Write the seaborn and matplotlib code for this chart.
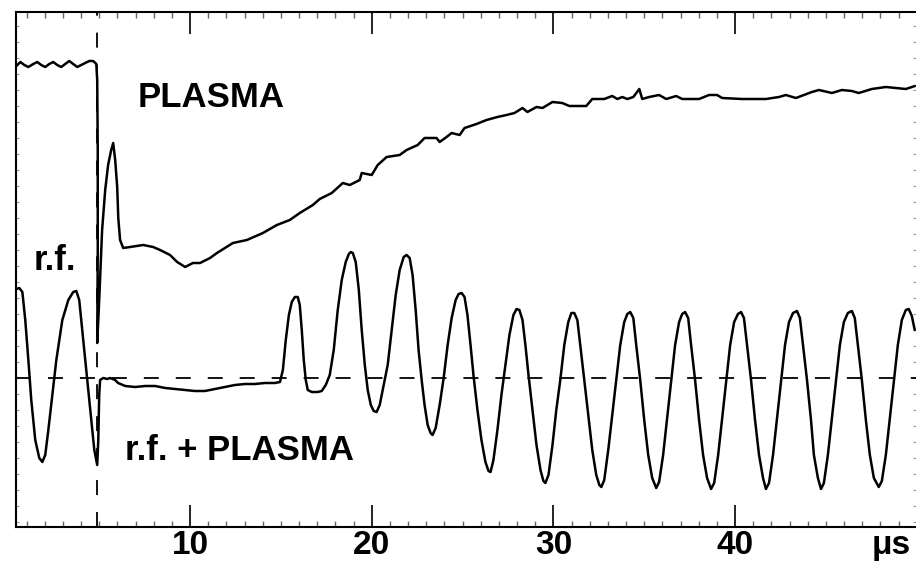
import matplotlib
matplotlib.use("Agg")
import matplotlib.pyplot as plt
from matplotlib.ticker import FixedLocator, MultipleLocator, NullLocator
import numpy as np
import pandas as pd
import seaborn as sns

# Probe signal without r.f. drive: time (μs) and amplitude (a.u., 0 = reference level)
plasma_t = [0.44, 0.66, 0.88, 1.10, 1.37, 1.59, 1.81, 2.03, 2.25, 2.47, 2.69, 2.91,
            3.13, 3.35, 3.57, 3.79, 4.01, 4.23, 4.45, 4.67, 4.84, 4.89, 4.92, 4.92,
            4.89, 5.00, 5.16, 5.33, 5.49, 5.66, 5.77, 5.88, 5.99, 6.05, 6.15, 6.32,
            6.70, 7.42, 7.97, 8.35, 8.90, 9.29, 9.73, 10.16, 10.55, 11.10, 11.48,
            12.36, 13.13, 14.01, 14.78, 15.49, 16.04, 16.76, 17.14, 17.80, 18.41,
            18.79, 19.34, 19.45, 20.00, 20.33, 20.82, 21.54, 21.92, 22.53, 22.91,
            23.57, 23.74, 24.12, 24.40, 24.84, 25.11, 25.77, 26.32, 26.92, 27.42,
            27.86, 28.30, 28.57, 29.07, 29.40, 29.95, 30.49, 30.88, 31.81, 32.14,
            32.80, 33.24, 33.52, 33.79, 34.07, 34.40, 34.73, 34.89, 35.27, 35.82,
            36.21, 36.76, 37.09, 38.02, 38.57, 39.01, 39.29, 40.38, 41.70, 42.42,
            42.80, 43.35, 44.23, 44.62, 45.33, 45.88, 46.43, 46.81, 47.53, 48.30,
            49.40, 49.90]
plasma_v = [31.2, 31.6, 31.3, 31.1, 31.4, 31.6, 31.3, 31.1, 31.4, 31.6, 31.3, 31.1,
            31.4, 31.7, 31.4, 31.1, 31.3, 31.5, 31.7, 31.7, 31.4, 29.8, 22.8, 12.8,
            3.5, 7.8, 14.8, 18.8, 21.3, 22.8, 23.5, 21.8, 19.1, 16.0, 13.8, 13.0,
            13.1, 13.3, 13.1, 12.8, 12.3, 11.6, 11.1, 11.5, 11.5, 12.0, 12.5,
            13.5, 13.8, 14.5, 15.3, 15.8, 16.5, 17.3, 17.9, 18.5, 19.5,
            19.3, 19.8, 20.5, 20.3, 21.3, 22.1, 22.3, 22.8, 23.3, 24.0,
            24.0, 23.6, 24.1, 24.5, 24.3, 25.0, 25.4, 25.8, 26.1, 26.3,
            26.5, 27.0, 26.6, 27.1, 27.0, 27.6, 27.5, 27.2, 27.2, 27.9,
            27.9, 28.2, 27.9, 28.1, 27.9, 28.1, 28.9, 27.9, 28.1, 28.3,
            27.9, 28.2, 27.9, 27.9, 28.3, 28.3, 28.0, 27.9, 27.9, 28.1,
            28.3, 28.0, 28.6, 28.8, 28.5, 28.8, 28.7, 28.5, 28.9, 29.1,
            28.9, 29.2]

# Probe signal with r.f. drive applied
rf_t = [0.44, 0.60, 0.77, 0.93, 1.10, 1.26, 1.48, 1.70, 1.87, 2.03, 2.20, 2.42,
        2.64, 2.97, 3.30, 3.57, 3.74, 3.90, 4.12, 4.34, 4.56, 4.73, 4.89, 4.95,
        5.00, 5.05, 5.22, 5.44, 5.60, 5.88, 6.04, 6.43, 6.98, 7.53, 8.08, 8.63,
        9.18, 9.73, 10.27, 10.82, 11.37, 11.92, 12.47, 13.02, 13.57, 14.12, 14.67,
        14.95, 15.11, 15.27, 15.44, 15.60, 15.77, 15.93, 16.04, 16.15, 16.26,
        16.37, 16.48, 16.70, 17.03, 17.25, 17.47, 17.69, 17.91, 18.13, 18.35,
        18.57, 18.74, 18.85, 18.96, 19.12, 19.29, 19.45, 19.62, 19.78, 19.95,
        20.11, 20.27, 20.44, 20.66, 20.88, 21.10, 21.32, 21.54, 21.76, 21.92,
        22.09, 22.25, 22.42, 22.58, 22.75, 22.91, 23.08, 23.24, 23.35, 23.52,
        23.74, 23.96, 24.18, 24.40, 24.62, 24.78, 24.95, 25.11, 25.27, 25.44,
        25.60, 25.82, 26.04, 26.26, 26.43, 26.54, 26.70, 26.92, 27.14, 27.36,
        27.58, 27.80, 27.97, 28.13, 28.30, 28.46, 28.63, 28.85, 29.07, 29.29,
        29.45, 29.56, 29.73, 29.95, 30.16, 30.38, 30.60, 30.82, 30.99, 31.15,
        31.32, 31.48, 31.70, 31.92, 32.14, 32.36, 32.53, 32.64, 32.80, 33.02,
        33.24, 33.46, 33.68, 33.90, 34.07, 34.23, 34.40, 34.56, 34.78, 35.00,
        35.22, 35.44, 35.66, 35.82, 36.04, 36.26, 36.48, 36.70, 36.92, 37.09,
        37.25, 37.42, 37.58, 37.80, 38.02, 38.24, 38.46, 38.68, 38.85, 39.07,
        39.29, 39.51, 39.73, 39.95, 40.16, 40.33, 40.49, 40.66, 40.88, 41.10,
        41.32, 41.54, 41.70, 41.87, 42.09, 42.31, 42.53, 42.75, 42.97, 43.19,
        43.41, 43.57, 43.74, 43.96, 44.18, 44.34, 44.56, 44.73, 44.89, 45.11,
        45.33, 45.55, 45.77, 45.99, 46.21, 46.43, 46.59, 46.76, 46.98, 47.20,
        47.42, 47.64, 47.91, 48.08, 48.30, 48.52, 48.74, 48.96, 49.18, 49.40,
        49.56, 49.73, 49.89]
rf_v = [8.9, 9.0, 8.6, 5.8, 1.8, -2.2, -6.2, -8.0, -8.4, -7.7, -5.2, -1.7,
        1.8, 5.8, 7.8, 8.6, 8.7, 7.8, 3.8, -0.2, -4.2, -7.2, -8.7, -6.2,
        -1.7, -0.2, 0.0, -0.1, 0.0, -0.2, -0.5, -0.8, -0.9, -0.8, -0.8, -1.0,
        -1.1, -1.2, -1.3, -1.3, -1.1, -0.9, -0.7, -0.6, -0.6, -0.5, -0.5,
        -0.4, 0.8, 3.8, 6.3, 7.6, 8.1, 8.1, 7.3, 4.8, 1.8,
        -0.2, -1.2, -1.4, -1.4, -1.3, -0.7, 0.3, 2.8, 6.8, 9.8,
        11.6, 12.4, 12.6, 12.5, 11.6, 8.8, 4.8, 1.3, -1.2, -2.7,
        -3.3, -3.4, -2.7, -0.7, 1.3, 4.8, 8.3, 10.8, 12.1, 12.3,
        12.0, 10.3, 6.8, 2.8, -0.2, -2.7, -4.7, -5.5, -5.7, -5.0,
        -2.7, 0.0, 3.3, 6.0, 7.8, 8.4, 8.5, 8.1, 6.3, 3.3,
        0.3, -3.2, -6.2, -8.4, -9.3, -9.4, -8.2, -5.2, -1.7, 1.3,
        4.3, 6.3, 6.9, 6.8, 5.8, 3.3, 0.3, -3.2, -6.7, -9.2,
        -10.3, -10.5, -9.7, -6.7, -3.2, -0.2, 3.3, 5.6, 6.5, 6.5,
        5.8, 3.3, -0.2, -3.7, -7.2, -9.7, -10.7, -10.9, -10.2, -7.2,
        -3.7, -0.2, 3.3, 5.6, 6.4, 6.6, 6.0, 3.3, -0.2, -4.2,
        -7.7, -10.0, -11.0, -10.4, -7.7, -4.0, -0.2, 3.3, 5.6, 6.4,
        6.6, 6.0, 3.3, -0.2, -4.2, -7.7, -10.0, -11.1, -10.5, -7.7,
        -4.0, -0.2, 3.3, 5.6, 6.4, 6.6, 6.0, 3.3, -0.2, -4.2,
        -7.7, -10.0, -11.1, -10.5, -7.7, -4.0, -0.2, 3.3, 5.6, 6.5,
        6.7, 6.0, 3.3, -0.2, -4.2, -7.7, -10.0, -11.1, -10.5, -7.7,
        -4.0, -0.2, 3.3, 5.6, 6.5, 6.7, 6.0, 3.3, -0.2, -4.2,
        -7.7, -10.0, -10.9, -10.3, -7.7, -4.0, -0.2, 3.3, 5.8, 6.8,
        6.9, 6.2, 4.8]

x_ticks = [10, 20, 30, 40]
x_tick_labels = ["10", "20", "30", "40"]
unit_label = "μs"
trigger_time = 4.89      # moment the discharge is switched on
baseline_level = 0.0     # reference level of the r.f. probe signal

sns.set_theme(style="white")
plt.rcParams["font.family"] = ["Liberation Sans", "DejaVu Sans"]

fig = plt.figure(figsize=(9.16, 5.62), dpi=100)
ax = fig.add_axes([16 / 916, 35 / 562, 900 / 916, 515 / 562])

plasma_df = pd.DataFrame({"t": plasma_t, "v": plasma_v})
rf_df = pd.DataFrame({"t": rf_t, "v": rf_v})

trace_kw = dict(color="black", linewidth=1.8, sort=False, estimator=None, ax=ax)
sns.lineplot(data=plasma_df, x="t", y="v", **trace_kw)
sns.lineplot(data=rf_df, x="t", y="v", **trace_kw)

dash = (0, (8.3, 9.4))
ax.axhline(baseline_level, color="black", linewidth=1.3, linestyle=dash, zorder=1)
ax.axvline(trigger_time, color="black", linewidth=1.3, linestyle=dash, zorder=1)

ax.set_xlim(0.42, 49.96)
ax.set_ylim(-14.9, 36.6)
ax.set_xlabel("")
ax.set_ylabel("")

# frame
for side in ("left", "top", "bottom"):
    ax.spines[side].set_visible(True)
    ax.spines[side].set_color("black")
    ax.spines[side].set_linewidth(1.5)
ax.spines["right"].set_visible(False)

# time axis ticks
ax.xaxis.set_major_locator(FixedLocator(x_ticks))
ax.set_xticklabels(x_tick_labels)
ax.xaxis.set_minor_locator(MultipleLocator(1))
ax.tick_params(axis="x", which="major", direction="in", length=16, width=1.2,
               color="black", top=True, bottom=True, pad=2,
               labelsize=24, labelcolor="black")
ax.tick_params(axis="x", which="minor", direction="in", length=4, width=1.0,
               color="#666666", top=True, bottom=True)
for lab in ax.get_xticklabels():
    lab.set_fontweight("bold")

# amplitude axis: faint graticule marks only
ax.yaxis.set_major_locator(NullLocator())
ax.yaxis.set_minor_locator(MultipleLocator(1.6))
ax.tick_params(axis="y", which="minor", direction="in", length=2.5, width=0.8,
               color="#999999", left=True, right=True)

ax.annotate(unit_label, xy=(48.6, 0), xycoords=("data", "axes fraction"),
            xytext=(0, -2), textcoords="offset points", ha="center", va="top",
            fontsize=24, fontweight="bold", color="black", annotation_clip=False)

label_kw = dict(fontsize=25, fontweight="bold", color="black", va="baseline", ha="left")
ax.text(7.14, 27.1, "PLASMA", **label_kw)
ax.text(1.37, 10.8, "r.f.", **label_kw)
ax.text(6.43, -8.2, "r.f. + PLASMA", **label_kw)

fig.savefig("out.png", dpi=100)
